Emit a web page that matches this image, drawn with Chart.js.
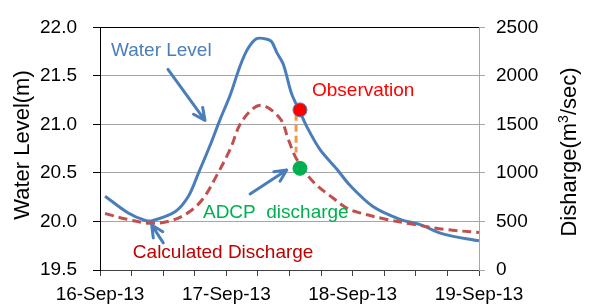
<!DOCTYPE html>
<html>
<head>
<meta charset="utf-8">
<script src="https://cdn.jsdelivr.net/npm/chart.js@4"></script>
<style>
  body { margin: 0; background: #fff; }
  #wrap { width: 589px; height: 304px; }
</style>
</head>
<body>
<div id="wrap"><canvas id="chart" width="589" height="304"></canvas></div>
<script>
// ── Data (x in days since 16-Sep-13 00:00) ────────────────────────────────────
const dayLabels = ["16-Sep-13", "17-Sep-13", "18-Sep-13", "19-Sep-13"];

const levelDays  = [0.04, 0.22, 0.36, 0.42, 0.594, 0.70, 0.78, 0.87, 0.95, 1.03, 1.108, 1.17, 1.24, 1.33, 1.36, 1.40, 1.451, 1.517, 1.583, 1.636, 1.742, 1.874, 1.98, 2.16, 2.38, 2.53, 2.72, 3.0];
const waterLevel = [20.26, 20.09, 20.01, 20.01, 20.10, 20.26, 20.50, 20.78, 21.05, 21.30, 21.60, 21.78, 21.885, 21.876, 21.85, 21.74, 21.62, 21.315, 21.13, 20.98, 20.74, 20.54, 20.37, 20.155, 20.02, 19.97, 19.87, 19.80];

const flowDays      = [0.04, 0.22, 0.40, 0.57, 0.713, 0.818, 0.924, 1.03, 1.122, 1.267, 1.425, 1.491, 1.557, 1.689, 1.847, 1.953, 2.06, 2.27, 2.48, 2.72, 3.0];
const calcDischarge = [582, 521, 481, 511, 605, 739, 975, 1243, 1529, 1697, 1562, 1344, 1142, 907, 739, 638, 588, 521, 471, 420, 386];

const obsDay   = [1.583];
const obsLevel = [21.15];
const adcpDay       = [1.583];
const adcpDischarge = [1048];
const linkDay   = [1.552, 1.552];
const linkLevel = [21.11, 20.71];

const levelTicks = { min: 19.5, max: 22.0, step: 0.5 };
const flowTicks  = { min: 0, max: 2500, step: 500 };

// ── Annotations (positioned in data units) ────────────────────────────────────
const notes = [
  { text: "Water Level",          day: 0.087, level: 21.76,  color: "#4a7ebb" },
  { text: "Observation",          day: 1.678, level: 21.35,  color: "#ff0000" },
  { text: "ADCP  discharge",      day: 0.815, level: 20.085, color: "#00b050" },
  { text: "Calculated Discharge", day: 0.26,  level: 19.674, color: "#c00000" },
];
const arrows = [
  { from: [0.538, 21.567], to: [0.831, 21.042] },
  { from: [1.188, 20.283], to: [1.478, 20.53] },
  { from: [0.501, 19.779], to: [0.409, 19.964] },
];

const FONT = "'Liberation Sans', Arial, sans-serif";

function pts(xs, ys) { return xs.map((x, i) => ({ x, y: ys[i] })); }

function drawArrow(ctx, x1, y1, x2, y2) {
  const a = Math.atan2(y2 - y1, x2 - x1), h = 13, w = 0.45;
  ctx.beginPath();
  ctx.moveTo(x1, y1); ctx.lineTo(x2, y2);
  ctx.moveTo(x2 - h * Math.cos(a - w), y2 - h * Math.sin(a - w));
  ctx.lineTo(x2, y2);
  ctx.lineTo(x2 - h * Math.cos(a + w), y2 - h * Math.sin(a + w));
  ctx.stroke();
}

const overlay = {
  id: "overlay",
  afterDatasetsDraw(chart) {
    const { ctx } = chart;
    const sx = chart.scales.x, sy = chart.scales.y;
    ctx.save();
    ctx.textBaseline = "middle";
    ctx.textAlign = "left";
    ctx.font = `19px ${FONT}`;
    notes.forEach(n => {
      ctx.fillStyle = n.color;
      ctx.fillText(n.text, sx.getPixelForValue(n.day), sy.getPixelForValue(n.level));
    });
    ctx.strokeStyle = "#4a7ebb";
    ctx.lineWidth = 3;
    ctx.lineCap = "round";
    ctx.lineJoin = "round";
    arrows.forEach(a => drawArrow(ctx,
      sx.getPixelForValue(a.from[0]), sy.getPixelForValue(a.from[1]),
      sx.getPixelForValue(a.to[0]),   sy.getPixelForValue(a.to[1])));
    ctx.restore();
  },
  afterDraw(chart) {
    const { ctx } = chart;
    ctx.save();
    ctx.fillStyle = "#000";
    ctx.textBaseline = "middle";
    // left title
    ctx.font = `22px ${FONT}`;
    ctx.translate(23, 145);
    ctx.rotate(-Math.PI / 2);
    ctx.textAlign = "center";
    ctx.fillText("Water Level(m)", 0, 0);
    ctx.restore();

    // right title with superscript
    ctx.save();
    ctx.fillStyle = "#000";
    ctx.textBaseline = "middle";
    ctx.translate(570, 152);
    ctx.rotate(-Math.PI / 2);
    const big = `22px ${FONT}`, small = `14px ${FONT}`;
    const parts = [["Disharge(m", big, 0], ["3", small, -6], ["/sec)", big, 0]];
    let total = 0;
    parts.forEach(p => { ctx.font = p[1]; total += ctx.measureText(p[0]).width; });
    let x = -total / 2;
    ctx.textAlign = "left";
    parts.forEach(p => {
      ctx.font = p[1];
      ctx.fillText(p[0], x, p[2]);
      x += ctx.measureText(p[0]).width;
    });
    ctx.restore();
  }
};

new Chart(document.getElementById("chart"), {
  type: "scatter",
  data: {
    datasets: [
      {
        label: "Observation",
        data: pts(obsDay, obsLevel),
        yAxisID: "y",
        pointRadius: 7,
        backgroundColor: "#ff0000",
        borderColor: "#4a7ebb",
        borderWidth: 1,
        order: 0,
      },
      {
        label: "ADCP discharge",
        data: pts(adcpDay, adcpDischarge),
        yAxisID: "y2",
        pointRadius: 7,
        backgroundColor: "#00b050",
        borderColor: "#00b050",
        borderWidth: 1,
        order: 0,
      },
      {
        label: "link",
        data: pts(linkDay, linkLevel),
        yAxisID: "y",
        showLine: true,
        pointRadius: 0,
        borderColor: "#f79646",
        borderWidth: 3,
        borderDash: [7, 4],
        order: 1,
      },
      {
        label: "Calculated Discharge",
        data: pts(flowDays, calcDischarge),
        yAxisID: "y2",
        showLine: true,
        pointRadius: 0,
        borderColor: "#c0504d",
        borderWidth: 3,
        borderDash: [9, 5],
        tension: 0.35,
        order: 2,
      },
      {
        label: "Water Level",
        data: pts(levelDays, waterLevel),
        yAxisID: "y",
        showLine: true,
        pointRadius: 0,
        borderColor: "#4a7ebb",
        borderWidth: 3,
        tension: 0.3,
        order: 3,
      },
    ],
  },
  options: {
    responsive: false,
    animation: false,
    layout: { padding: { top: 22, left: 0, right: 0, bottom: 0 } },
    plugins: { legend: { display: false }, tooltip: { enabled: false } },
    scales: {
      x: {
        type: "linear",
        position: "bottom",
        min: 0, max: 3,
        afterFit: s => { s.height = 34; },
        ticks: {
          stepSize: 0.25,
          autoSkip: false,
          maxRotation: 0,
          padding: 7,
          color: "#000",
          font: { family: FONT, size: 19 },
          callback: v => Number.isInteger(v) ? dayLabels[v] : "",
        },
        grid: { drawOnChartArea: false, tickLength: 6, color: "#404040" },
        border: { color: "#404040", width: 1 },
      },
      y: {
        position: "left",
        min: levelTicks.min, max: levelTicks.max,
        afterFit: s => { s.width = 100; },
        ticks: {
          stepSize: levelTicks.step,
          padding: 16,
          color: "#000",
          font: { family: FONT, size: 19 },
          callback: v => v.toFixed(1),
        },
        grid: {
          tickLength: 7,
          color: c => c.tick && c.tick.value === levelTicks.max ? "#000" : "#a6a6a6",
          tickColor: "#000",
        },
        border: { color: "#000", width: 1 },
      },
      y2: {
        position: "right",
        min: flowTicks.min, max: flowTicks.max,
        afterFit: s => { s.width = 110; },
        ticks: {
          stepSize: flowTicks.step,
          padding: 11,
          color: "#000",
          font: { family: FONT, size: 19 },
          callback: v => String(v),
        },
        grid: { drawOnChartArea: false, tickLength: 6, color: "#a6a6a6" },
        border: { color: "#a6a6a6", width: 1 },
      },
    },
  },
  plugins: [overlay],
});
</script>
</body>
</html>
